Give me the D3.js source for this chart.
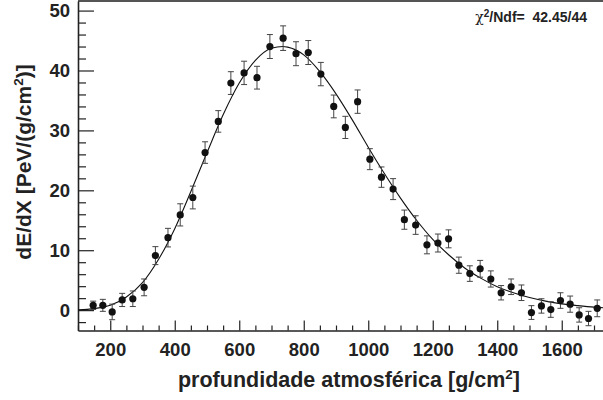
<!DOCTYPE html>
<html>
<head>
<meta charset="utf-8">
<script src="https://cdn.jsdelivr.net/npm/d3@7"></script>
<style>
    body { margin: 0; background: #fff; }
    svg { display: block; font-family: "Liberation Sans", Arial, Helvetica, sans-serif; }
    .tick-label { font-weight: bold; }
</style>
</head>
<body>
<div id="chart"></div>
<script>
// measured points: depth [g/cm2], dE/dX [PeV/(g/cm2)] and its error
const depth = [147, 177, 206, 237, 270, 305, 340, 379, 417, 456, 494, 535, 574, 615, 655,
    695, 736, 776, 814, 853, 893, 929, 967, 1005, 1041, 1077, 1112, 1147, 1182, 1216, 1249,
    1281, 1315, 1347, 1380, 1412, 1443, 1475, 1506, 1537, 1566, 1596, 1626, 1654, 1683, 1710];
const dedx = [0.8, 0.8, -0.3, 1.7, 1.9, 3.8, 9.1, 12.1, 15.9, 18.8, 26.3, 31.5, 37.9, 39.6, 38.8,
    44.0, 45.4, 42.8, 43.0, 39.4, 34.0, 30.5, 34.8, 25.2, 22.2, 20.2, 15.1, 14.2, 10.9, 11.2, 11.9,
    7.5, 6.1, 6.9, 5.2, 2.9, 3.9, 2.9, -0.4, 0.7, 0.1, 1.6, 1.0, -0.8, -1.4, 0.3];
const dedxErr = [0.7, 1.0, 1.3, 1.1, 1.3, 1.4, 1.5, 1.55, 1.85, 1.9, 1.8, 1.8, 1.9, 1.95, 1.9,
    2.0, 2.05, 2.0, 2.0, 1.95, 1.9, 1.85, 1.95, 1.75, 1.7, 1.75, 1.6, 1.55, 1.5, 1.5, 1.5,
    1.35, 1.3, 1.4, 1.35, 1.2, 1.3, 1.3, 1.15, 1.2, 1.3, 1.3, 1.35, 1.2, 1.2, 1.4];

// fitted profile
const fitDepth = [100, 150, 200, 250, 300, 350, 400, 450, 500, 550, 600, 650, 700, 735, 750,
    800, 850, 900, 950, 1000, 1050, 1100, 1150, 1200, 1250, 1300, 1350, 1400, 1450, 1500,
    1550, 1600, 1650, 1700, 1750];
const fitValue = [0.05, 0.25, 0.8, 2.2, 4.6, 8.5, 13.6, 19.8, 26.3, 32.6, 37.9, 41.7, 43.7, 44.0, 43.9,
    42.6, 39.8, 36.1, 31.8, 27.2, 22.8, 18.7, 15.0, 11.8, 9.2, 7.0, 5.3, 3.9, 2.9, 2.1,
    1.5, 1.05, 0.75, 0.5, 0.35];

const xMajorTicks = [200, 400, 600, 800, 1000, 1200, 1400, 1600];
const xMinorTicks = d3.range(100, 1751, 50).filter(d => d % 200 !== 0);
const yMajorTicks = [0, 10, 20, 30, 40, 50];
const yMinorTicks = d3.range(-2, 51, 2).filter(d => d % 10 !== 0);

const fitLabel = '42.45/44';

class ProfilePlot {

    constructor(_config) {
        this.config = {
            parentElement: _config.parentElement,
            containerWidth: 603,
            containerHeight: 400,
            margin: { top: 1, left: 78, bottom: 69.5 },
            xDomain: [100, 1750],
            yDomain: [-3.4, 51.6]
        };
        this.initVis();
    }

    initVis() {
        let vis = this;
        const m = vis.config.margin;

        vis.height = vis.config.containerHeight - m.top - m.bottom;
        // 200 g/cm2 is 64.5 px in the reference
        vis.width = (vis.config.xDomain[1] - vis.config.xDomain[0]) * 64.5 / 200;

        vis.xScale = d3.scaleLinear()
            .domain(vis.config.xDomain)
            .range([0, vis.width]);

        vis.yScale = d3.scaleLinear()
            .domain(vis.config.yDomain)
            .range([vis.height, 0]);

        vis.svg = d3.select(vis.config.parentElement).append('svg')
            .attr('width', vis.config.containerWidth)
            .attr('height', vis.config.containerHeight);

        vis.chart = vis.svg.append('g')
            .attr('transform', `translate(${m.left},${m.top})`);

        vis.chart.append('defs').append('clipPath')
            .attr('id', 'frame-clip')
            .append('rect')
            .attr('width', vis.width)
            .attr('height', vis.height);

        // top border of the frame
        vis.chart.append('line')
            .attr('x1', 0).attr('x2', vis.width)
            .attr('y1', 0).attr('y2', 0)
            .attr('stroke', '#555')
            .attr('stroke-width', 2);

        // minor ticks first, majors with labels on top
        vis.chart.append('g')
            .attr('transform', `translate(0,${vis.height})`)
            .call(d3.axisBottom(vis.xScale).tickValues(xMinorTicks).tickSize(-5).tickFormat(''))
            .call(g => g.select('.domain').remove());

        vis.xAxisG = vis.chart.append('g')
            .attr('transform', `translate(0,${vis.height})`)
            .call(d3.axisBottom(vis.xScale)
                .tickValues(xMajorTicks)
                .tickFormat(d3.format('d'))
                .tickSize(-10)
                .tickSizeOuter(0)
                .tickPadding(12));

        vis.chart.append('g')
            .call(d3.axisLeft(vis.yScale).tickValues(yMinorTicks).tickSize(-8).tickFormat(''))
            .call(g => g.select('.domain').remove());

        vis.yAxisG = vis.chart.append('g')
            .call(d3.axisLeft(vis.yScale)
                .tickValues(yMajorTicks)
                .tickFormat(d3.format('d'))
                .tickSize(-16)
                .tickSizeOuter(0)
                .tickPadding(8));

        vis.svg.selectAll('.tick line').attr('stroke', '#222').attr('stroke-width', 1.2);
        vis.svg.selectAll('.domain').attr('stroke', '#222').attr('stroke-width', 1.6);
        vis.svg.selectAll('.tick text')
            .attr('class', 'tick-label')
            .attr('fill', '#222')
            .style('font-size', '18.5px');

        // axis titles
        const xTitle = vis.svg.append('text')
            .attr('x', 349)
            .attr('y', 387)
            .attr('text-anchor', 'middle')
            .attr('fill', '#222')
            .style('font-size', '21.5px')
            .style('font-weight', 'bold')
            .text('profundidade atmosférica [g/cm');
        xTitle.append('tspan').attr('dy', -8).style('font-size', '13.5px').text('2');
        xTitle.append('tspan').attr('dy', 8).text(']');

        const yTitle = vis.svg.append('text')
            .attr('transform', 'translate(31,162) rotate(-90)')
            .attr('text-anchor', 'middle')
            .attr('fill', '#222')
            .style('font-size', '21px')
            .style('font-weight', 'bold')
            .text('dE/dX [PeV/(g/cm');
        yTitle.append('tspan').attr('dy', -8).style('font-size', '13.5px').text('2');
        yTitle.append('tspan').attr('dy', 8).text(')]');

        // fit statistics text
        const stat = vis.svg.append('text')
            .attr('x', 587)
            .attr('y', 22)
            .attr('text-anchor', 'end')
            .attr('fill', '#222')
            .style('white-space', 'pre')
            .style('font-size', '14px')
            .style('font-weight', 'bold');
        stat.append('tspan').style('font-weight', 'normal').style('font-family', '"DejaVu Serif", serif').text('χ');
        stat.append('tspan').attr('dy', -5).style('font-size', '10px').text('2');
        stat.append('tspan').attr('dy', 5).text('/Ndf=  ' + fitLabel);

        vis.renderVis();
    }

    renderVis() {
        let vis = this;

        const plot = vis.chart.append('g').attr('clip-path', 'url(#frame-clip)');

        const line = d3.line()
            .x((d, i) => vis.xScale(fitDepth[i]))
            .y(d => vis.yScale(d))
            .curve(d3.curveMonotoneX);

        plot.append('path')
            .datum(fitValue)
            .attr('d', line)
            .attr('fill', 'none')
            .attr('stroke', '#111')
            .attr('stroke-width', 1.1);

        const points = depth.map((d, i) => ({ x: d, y: dedx[i], e: dedxErr[i] }));

        const bars = plot.selectAll('.err')
            .data(points)
            .join('g')
            .attr('class', 'err')
            .attr('stroke', '#444')
            .attr('stroke-width', 1);

        bars.append('line')
            .attr('x1', d => vis.xScale(d.x)).attr('x2', d => vis.xScale(d.x))
            .attr('y1', d => vis.yScale(d.y - d.e)).attr('y2', d => vis.yScale(d.y + d.e));
        bars.append('line')
            .attr('x1', d => vis.xScale(d.x) - 3).attr('x2', d => vis.xScale(d.x) + 3)
            .attr('y1', d => vis.yScale(d.y + d.e)).attr('y2', d => vis.yScale(d.y + d.e));
        bars.append('line')
            .attr('x1', d => vis.xScale(d.x) - 3).attr('x2', d => vis.xScale(d.x) + 3)
            .attr('y1', d => vis.yScale(d.y - d.e)).attr('y2', d => vis.yScale(d.y - d.e));

        plot.selectAll('.point')
            .data(points)
            .join('circle')
            .attr('class', 'point')
            .attr('cx', d => vis.xScale(d.x))
            .attr('cy', d => vis.yScale(d.y))
            .attr('r', 3.6)
            .attr('fill', '#111');
    }
}

new ProfilePlot({ parentElement: '#chart' });
</script>
</body>
</html>
